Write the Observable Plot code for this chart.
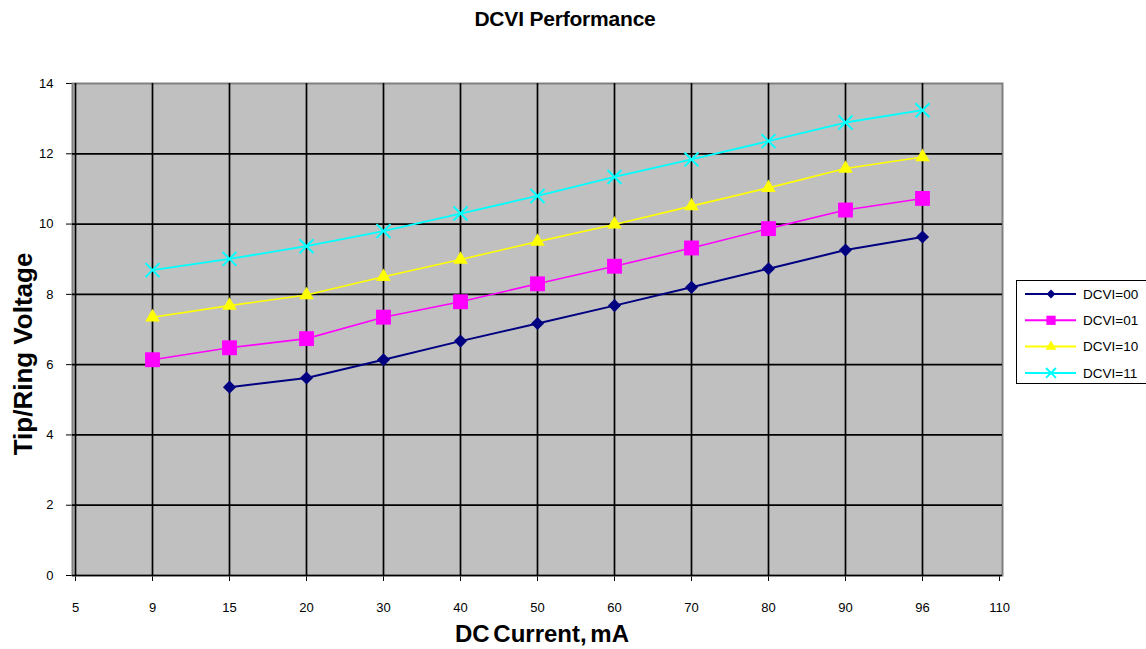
<!DOCTYPE html>
<html>
<head>
<meta charset="utf-8">
<script src="https://cdn.jsdelivr.net/npm/d3@7"></script>
<script src="https://cdn.jsdelivr.net/npm/@observablehq/plot@0.6"></script>
<style>
  html, body { margin: 0; padding: 0; background: #fff; overflow: hidden; }
  #wrap { position: relative; width: 1146px; height: 649px; overflow: hidden; font-family: "Liberation Sans", Arial, sans-serif; }
  #chart { position: absolute; left: 0; top: 0; }
  #titles { position: absolute; left: 0; top: 0; pointer-events: none; }
  #legend { position: absolute; left: 1016px; top: 280px; width: 140px; height: 104px; box-sizing: border-box; border: 1px solid #000; background: #fff; overflow: hidden; }
</style>
</head>
<body>
<div id="wrap">
  <div id="chart"></div>
  <svg id="titles" width="1146" height="649"></svg>
  <div id="legend"></div>
</div>
<script>
// ---- data ----
const xCategories = ["5","9","15","20","30","40","50","60","70","80","90","96","110"];
const currents = ["9","15","20","30","40","50","60","70","80","90","96"];
const dcvi00 = [null, 5.36, 5.62, 6.14, 6.67, 7.17, 7.68, 8.20, 8.73, 9.26, 9.63];
const dcvi01 = [6.14, 6.48, 6.74, 7.35, 7.79, 8.30, 8.80, 9.32, 9.87, 10.40, 10.73];
const dcvi10 = [7.35, 7.68, 7.98, 8.50, 8.99, 9.50, 9.99, 10.51, 11.03, 11.58, 11.91];
const dcvi11 = [8.69, 9.01, 9.37, 9.80, 10.30, 10.80, 11.34, 11.84, 12.36, 12.89, 13.24];
const yTicks = [0, 2, 4, 6, 8, 10, 12, 14];
const seriesNames = ["DCVI=00", "DCVI=01", "DCVI=10", "DCVI=11"];
const seriesValues = [dcvi00, dcvi01, dcvi10, dcvi11];
const chartTitle = "DCVI Performance";
const xTitle = "DC Current, mA";
const yTitle = "Tip/Ring Voltage";

// ---- styles ----
const FONT = "'Liberation Sans', Arial, sans-serif";
const seriesColors = ["#000080", "#FF00FF", "#FFFF00", "#00FFFF"];
const seriesSymbols = ["diamond2", "square", "triangle", "times"];
const seriesR = [5.9, 8.4, 5.4, 6.4];
const seriesLineW = [2, 1.6, 1.6, 1.8];

const marks = [
  Plot.frame({fill: "#c0c0c0", stroke: "#808080", strokeWidth: 2}),
  Plot.gridY({ticks: yTicks.filter(d => d > 0 && d < 14), stroke: "#000", strokeOpacity: 1, strokeWidth: 1.7}),
  Plot.gridX({ticks: currents, stroke: "#000", strokeOpacity: 1, strokeWidth: 1.7}),
  Plot.ruleX([xCategories[0]], {stroke: "#000", strokeWidth: 1.7}),
  Plot.ruleY([0], {stroke: "#000", strokeWidth: 1.7})
];

seriesNames.forEach((name, i) => {
  const rows = currents.map((c, j) => ({current: c, v: seriesValues[i][j]})).filter(d => d.v != null);
  marks.push(Plot.line(rows, {x: "current", y: "v", stroke: seriesColors[i], strokeWidth: seriesLineW[i]}));
  if (seriesSymbols[i] === "times") {
    marks.push(Plot.dot(rows, {x: "current", y: "v", symbol: seriesSymbols[i], r: seriesR[i], stroke: seriesColors[i], strokeWidth: 2, fill: "none"}));
  } else {
    marks.push(Plot.dot(rows, {x: "current", y: "v", symbol: seriesSymbols[i], r: seriesR[i], fill: seriesColors[i], stroke: "none"}));
  }
});

const chart = Plot.plot({
  width: 1146,
  height: 649,
  marginLeft: 72,
  marginRight: 144,
  marginTop: 83,
  marginBottom: 74,
  style: {fontFamily: FONT, fontSize: "13px", background: "transparent", color: "#000"},
  x: {type: "point", domain: xCategories, padding: 0, label: null, tickSize: 6, tickPadding: 21},
  y: {domain: [0, 14], ticks: yTicks, label: null, tickSize: 6, tickPadding: 13},
  marks
});
document.getElementById("chart").appendChild(chart);

// ---- titles ----
const tsvg = d3.select("#titles").style("font-family", FONT).style("font-weight", "bold");
tsvg.append("text").attr("x", 565).attr("y", 26).attr("text-anchor", "middle")
  .style("font-size", "21px").style("letter-spacing", "-0.2px").text(chartTitle);
tsvg.append("text").attr("x", 542).attr("y", 642).attr("text-anchor", "middle")
  .style("font-size", "24px").style("word-spacing", "-3px").text(xTitle);
tsvg.append("text").attr("transform", "translate(32,354) rotate(-90)").attr("text-anchor", "middle")
  .style("font-size", "26px").text(yTitle);

// ---- legend ----
const lsvg = d3.select("#legend").append("svg").attr("width", 138).attr("height", 102)
  .style("font-family", FONT).style("font-size", "13.5px");
const symMap = {diamond2: d3.symbolDiamond2, square: d3.symbolSquare, triangle: d3.symbolTriangle, times: d3.symbolTimes};
const legendR = [4, 5.2, 4, 4.6];
seriesNames.forEach((name, i) => {
  const y = 13 + i * 26.3;
  const g = lsvg.append("g");
  g.append("line").attr("x1", 8).attr("x2", 59).attr("y1", y).attr("y2", y)
    .attr("stroke", seriesColors[i]).attr("stroke-width", 2);
  const p = d3.symbol(symMap[seriesSymbols[i]], Math.PI * legendR[i] * legendR[i])();
  const s = g.append("path").attr("d", p).attr("transform", `translate(34,${y})`);
  if (seriesSymbols[i] === "times") s.attr("fill", "none").attr("stroke", seriesColors[i]).attr("stroke-width", 2);
  else s.attr("fill", seriesColors[i]);
  g.append("text").attr("x", 66).attr("y", y).attr("dy", "0.36em").text(name);
});
</script>
</body>
</html>
